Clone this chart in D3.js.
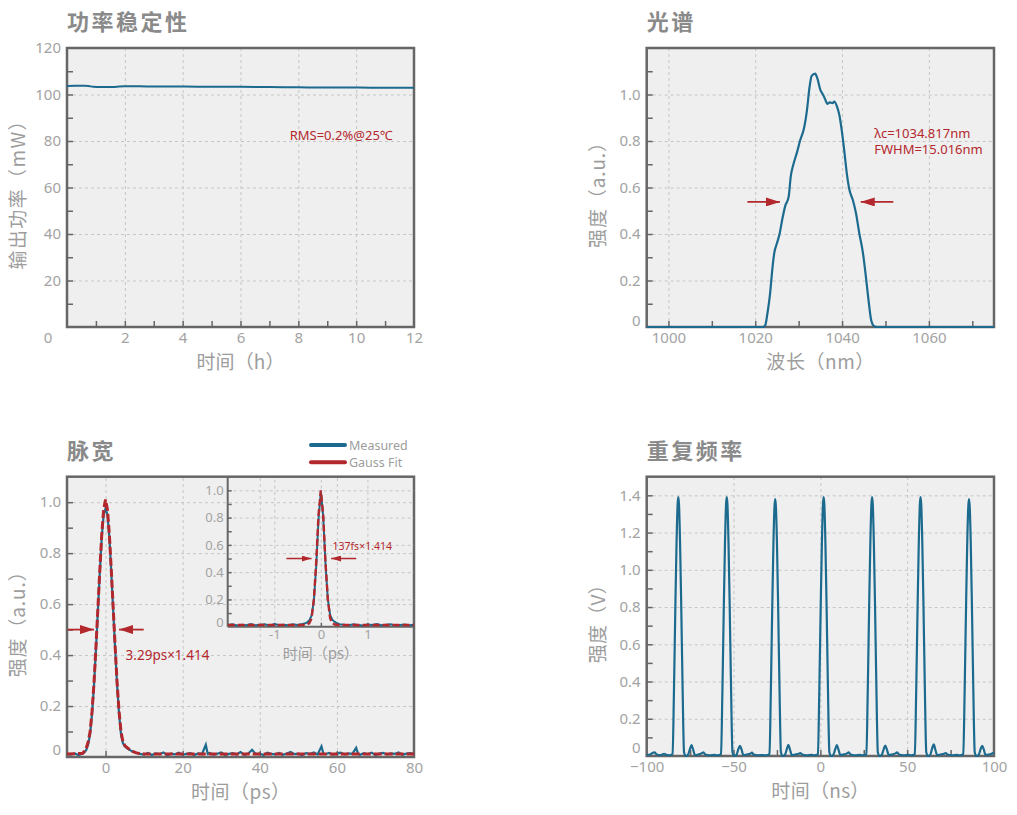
<!DOCTYPE html>
<html><head><meta charset="utf-8">
<script src="https://cdn.jsdelivr.net/npm/d3@7"></script>
<style>
body{margin:0;background:#fff;}
</style></head><body>
<script>
// ---------- DATA ----------
// Panel 1: power stability (time h, power mW)
const powerData = [[0,103.7],[0.3,103.8],[0.6,103.8],[0.75,103.7],[0.9,103.3],[1.2,103.2],[1.6,103.2],[1.8,103.4],[2.0,103.5],[2.5,103.5],[3,103.4],[4,103.4],[5,103.3],[6,103.3],[7,103.2],[8,103.1],[9,103.0],[10,103.0],[11,102.9],[12,102.9]];
const powerNote = "RMS=0.2%@25℃";

// Panel 2: spectrum (nm, a.u.)
const spectrumData = [[995,0],[1021.8,0],[1022.3,0.007],[1022.8,0.057],[1023.4,0.14],[1024.0,0.26],[1024.4,0.32],[1025.0,0.36],[1025.6,0.40],[1026.3,0.47],[1026.9,0.52],[1027.7,0.56],[1028.2,0.65],[1028.8,0.70],[1029.6,0.75],[1030.3,0.80],[1031.3,0.86],[1031.9,0.93],[1032.5,1.03],[1033.0,1.08],[1033.8,1.09],[1034.3,1.07],[1035.0,1.02],[1035.6,1.00],[1036.1,0.98],[1036.6,0.96],[1037.2,0.966],[1037.8,0.963],[1038.2,0.97],[1038.8,0.95],[1039.4,0.91],[1039.9,0.85],[1040.5,0.76],[1041.1,0.66],[1041.7,0.59],[1042.5,0.545],[1043.2,0.49],[1044.0,0.40],[1044.8,0.32],[1045.5,0.215],[1046.1,0.115],[1046.7,0.03],[1047.4,0.003],[1048.0,0],[1075,0]];
const spectrumArrows = [[1018.2,1025.7,0.538],[1051.8,1044.3,0.538]];
const spectrumNotes = ["λc=1034.817nm","FWHM=15.016nm"];

// Panel 3: pulse width (ps, a.u.)
const pulseMeasured = [[-10,0.012],[-9,0.009],[-8,0.014],[-7,0.008],[-6,0.013],[-5.5,0.018],[-5,0.028],[-4.5,0.05],[-4,0.09],[-3.5,0.17],[-3,0.28],[-2.5,0.42],[-2,0.57],[-1.5,0.72],[-1,0.86],[-0.5,0.95],[0,0.975],[0.5,0.95],[1,0.86],[1.5,0.72],[2,0.57],[2.5,0.42],[3,0.28],[3.5,0.17],[4,0.09],[4.5,0.055],[5,0.042],[5.5,0.035],[6,0.03],[7,0.022],[8,0.016],[9,0.012],[10,0.009],
[11,0.016],[12,0.008],[13,0.014],[14,0.011],[15,0.018],[16,0.007],[17,0.013],[18,0.01],[19,0.017],[20,0.009],[21,0.012],[22,0.015],[23,0.008],[24,0.014],[25,0.011],[26,0.048],[26.5,0.012],[27,0.016],[28,0.009],[29,0.013],[30,0.018],[31,0.008],[32,0.012],[33,0.015],[34,0.01],[35,0.019],[36,0.009],[37,0.014],[38,0.028],[39,0.011],[40,0.013],[41,0.008],[42,0.017],[43,0.012],[44,0.01],[45,0.016],[46,0.009],[47,0.014],[48,0.02],[49,0.011],[50,0.013],[51,0.008],[52,0.015],[53,0.012],[54,0.018],[55,0.01],[56,0.042],[56.5,0.014],[57,0.011],[58,0.016],[59,0.009],[60,0.013],[61,0.017],[62,0.01],[63,0.014],[64,0.012],[65,0.036],[65.5,0.012],[66,0.009],[67,0.015],[68,0.011],[69,0.017],[70,0.008],[71,0.013],[72,0.016],[73,0.01],[74,0.014],[75,0.012],[76,0.018],[77,0.009],[78,0.013],[79,0.015],[80,0.011]];
const pulseFit = [[-10,0.012],[-6,0.014],[-5.5,0.022],[-5,0.035],[-4.5,0.06],[-4,0.1],[-3.5,0.18],[-3,0.29],[-2.5,0.43],[-2,0.58],[-1.5,0.73],[-1,0.87],[-0.5,0.97],[0,1.01],[0.5,0.97],[1,0.87],[1.5,0.73],[2,0.58],[2.5,0.43],[3,0.29],[3.5,0.18],[4,0.1],[4.5,0.06],[5,0.045],[6,0.032],[7,0.022],[8,0.016],[9,0.013],[10,0.012],[80,0.012]];
const pulseArrows = [[-9.8,-3.0,0.5],[9.9,3.5,0.5]];
const pulseNote = "3.29ps×1.414";
const legendNames = ["Measured","Gauss Fit"];

// Inset (ps, a.u.)
const insetMeasured = [[-2.0,0.012],[-1.9,0.018],[-1.8,0.009],[-1.7,0.015],[-1.6,0.011],[-1.5,0.02],[-1.4,0.01],[-1.3,0.014],[-1.2,0.017],[-1.1,0.008],[-1.0,0.019],[-0.9,0.012],[-0.8,0.015],[-0.7,0.01],[-0.6,0.018],[-0.5,0.013],[-0.4,0.02],[-0.35,0.024],[-0.3,0.03],[-0.25,0.045],[-0.2,0.08],[-0.15,0.19],[-0.1,0.44],[-0.05,0.79],[0,0.99],[0.05,0.81],[0.1,0.46],[0.15,0.2],[0.2,0.085],[0.25,0.05],[0.3,0.035],[0.35,0.025],[0.4,0.018],[0.5,0.015],[0.6,0.011],[0.7,0.017],[0.8,0.013],[0.9,0.009],[1.0,0.016],[1.1,0.012],[1.2,0.019],[1.3,0.01],[1.4,0.014],[1.5,0.017],[1.6,0.009],[1.7,0.013],[1.8,0.016],[1.9,0.011],[2.0,0.014]];
const insetFit = [[-2,0.012],[-0.4,0.012],[-0.3,0.016],[-0.25,0.025],[-0.2,0.06],[-0.15,0.2],[-0.1,0.47],[-0.05,0.82],[0,1.0],[0.05,0.82],[0.1,0.47],[0.15,0.2],[0.2,0.06],[0.25,0.025],[0.3,0.016],[0.4,0.012],[2,0.012]];
const insetArrows = [[-0.74,-0.2,0.5],[0.76,0.22,0.5]];
const insetNote = "137fs×1.414";

// Panel 4: repetition rate (ns, V)
const repData = [[-100,0.005],[-98,0.008],[-96.5,0.018],[-95.5,0.02],[-94.5,0.01],[-92,0.005],[-90,0.012],[-89,0.008],[-87.5,0.004],
[-86.3,0.005],[-85.1,0.01],[-84.3,0.35],[-83.5,0.8],[-82.8,1.15],[-82.2,1.35],[-81.8,1.39],[-81.4,1.35],[-80.8,1.15],[-80.1,0.8],[-79.3,0.35],[-78.5,0.02],[-77.6,0.0],[-76.3,0.005],[-75.0,0.04],[-74.2,0.058],[-73.3,0.035],[-72.2,0.005],[-70.3,0.008],[-68.3,0.015],[-67.3,0.02],[-66.3,0.008],[-63.8,0.004],[-60.8,0.006],[-59.8,0.004],
[-58.4,0.005],[-57.2,0.01],[-56.4,0.35],[-55.6,0.8],[-54.9,1.15],[-54.3,1.35],[-53.9,1.39],[-53.5,1.35],[-52.9,1.15],[-52.2,0.8],[-51.4,0.35],[-50.6,0.02],[-49.7,0.0],[-48.4,0.005],[-47.1,0.04],[-46.3,0.055],[-45.4,0.035],[-44.3,0.005],[-42.4,0.008],[-40.4,0.012],[-39.4,0.018],[-38.4,0.008],[-35.9,0.004],[-32.9,0.005],[-31.9,0.003],
[-30.5,0.005],[-29.3,0.01],[-28.5,0.35],[-27.7,0.8],[-27.0,1.15],[-26.4,1.34],[-26.0,1.38],[-25.6,1.34],[-25.0,1.15],[-24.3,0.8],[-23.5,0.35],[-22.7,0.02],[-21.8,0.0],[-20.5,0.005],[-19.2,0.04],[-18.4,0.06],[-17.5,0.035],[-16.4,0.005],[-14.5,0.008],[-12.5,0.012],[-11.5,0.016],[-10.5,0.008],[-8.0,0.004],[-5.0,0.006],[-4.0,0.004],
[-2.6,0.005],[-1.4,0.01],[-0.6,0.35],[0.2,0.8],[0.9,1.15],[1.5,1.35],[1.9,1.39],[2.3,1.35],[2.9,1.15],[3.6,0.8],[4.4,0.35],[5.2,0.02],[6.1,0.0],[7.4,0.005],[8.7,0.04],[9.5,0.058],[10.4,0.035],[11.5,0.005],[13.4,0.008],[15.4,0.014],[16.4,0.02],[17.4,0.008],[19.9,0.004],[22.9,0.006],[23.9,0.004],
[25.3,0.005],[26.5,0.01],[27.3,0.35],[28.1,0.8],[28.8,1.15],[29.4,1.35],[29.8,1.39],[30.2,1.35],[30.8,1.15],[31.5,0.8],[32.3,0.35],[33.1,0.02],[34.0,0.0],[35.3,0.005],[36.6,0.04],[37.4,0.056],[38.3,0.035],[39.4,0.005],[41.3,0.008],[43.3,0.014],[44.3,0.02],[45.3,0.008],[47.8,0.004],[50.8,0.006],[51.8,0.004],
[53.2,0.005],[54.4,0.01],[55.2,0.35],[56.0,0.8],[56.7,1.15],[57.3,1.35],[57.7,1.39],[58.1,1.35],[58.7,1.15],[59.4,0.8],[60.2,0.35],[61.0,0.02],[61.9,0.0],[63.2,0.005],[64.5,0.045],[65.3,0.062],[66.2,0.035],[67.3,0.005],[69.2,0.008],[71.2,0.012],[72.2,0.016],[73.2,0.008],[75.7,0.004],[78.7,0.006],[79.7,0.004],
[81.1,0.005],[82.3,0.01],[83.1,0.35],[83.9,0.8],[84.6,1.15],[85.2,1.34],[85.6,1.38],[86.0,1.34],[86.6,1.15],[87.3,0.8],[88.1,0.35],[88.9,0.02],[89.8,0.0],[91.1,0.005],[92.4,0.04],[93.2,0.055],[94.1,0.035],[95.2,0.005],[97.1,0.008],[98.5,0.012],[99.3,0.015],[100,0.02]];

// Tick values
const p1XLabels=[2,4,6,8,10,12], p1YLabels=[20,40,60,80,100,120];
const p2XLabels=[1000,1020,1040,1060], p2YLabels=[0,0.2,0.4,0.6,0.8,1.0];
const p3XLabels=[0,20,40,60,80], p3YLabels=[0,0.2,0.4,0.6,0.8,1.0];
const inXLabels=[-1,0,1], inYLabels=[0,0.2,0.4,0.6,0.8,1.0];
const p4XLabels=[-100,-50,0,50,100], p4YLabels=[0,0.2,0.4,0.6,0.8,1.0,1.2,1.4];
const titles=["功率稳定性","光谱","脉宽","重复频率"];
const xTitles=["时间（h）","波长（nm）","时间（ps）","时间（ns）"];
const yTitles=["输出功率（mW）","强度（a.u.）","强度（a.u.）","强度（V）"];

// ---------- STYLE ----------
const BLUE="#1c6a8e", RED="#b3282d", FRAME="#666", GRID="#c6c6c6", TICKTXT="#a3a3a3", TITLE="#8a8a8a", AXTXT="#9d9d9d";
const LAT='"Noto Sans",sans-serif', CJK='"Noto Sans CJK SC",sans-serif';

const svg=d3.select("body").append("svg").attr("width",1017).attr("height",815);
const defs=svg.append("defs");
function marker(id,len,hh){
  defs.append("marker").attr("id",id).attr("markerUnits","userSpaceOnUse")
   .attr("markerWidth",len).attr("markerHeight",hh).attr("refX",len).attr("refY",hh/2).attr("orient","auto")
   .append("path").attr("d",`M0,0L${len},${hh/2}L0,${hh}Z`).attr("fill",RED);
}
marker("arrBig",14,9); marker("arrSmall",10,6);
let clipId=0;

function panel(c){
  const g=svg.append("g");
  const x=d3.scaleLinear().domain(c.xDomain).range([c.left,c.right]);
  const y=d3.scaleLinear().domain(c.yDomain).range([c.bottom,c.top]);
  const w=c.right-c.left,h=c.bottom-c.top;
  if(c.bg) g.append("rect").attr("x",c.left).attr("y",c.top).attr("width",w).attr("height",h).attr("fill","#efefef");
  const styleGrid=s=>{s.select(".domain").remove();s.selectAll("line").attr("stroke",GRID).attr("stroke-width",1).attr("stroke-dasharray","3,3");};
  g.append("g").attr("transform",`translate(0,${c.bottom})`).call(d3.axisBottom(x).tickValues(c.xGrid).tickSize(-h).tickFormat("")).call(styleGrid);
  g.append("g").attr("transform",`translate(${c.left},0)`).call(d3.axisLeft(y).tickValues(c.yGrid).tickSize(-w).tickFormat("")).call(styleGrid);
  const tl=c.tickLen||6;
  const styleTick=s=>{s.select(".domain").remove();s.selectAll("line").attr("stroke",FRAME).attr("stroke-width",1.5);};
  g.append("g").attr("transform",`translate(0,${c.bottom})`).call(d3.axisBottom(x).tickValues(c.xTicks).tickSize(-tl).tickFormat("")).call(styleTick);
  g.append("g").attr("transform",`translate(${c.left},0)`).call(d3.axisLeft(y).tickValues(c.yTicks).tickSize(-tl).tickFormat("")).call(styleTick);
  const fs=c.fontSize||15;
  const styleLab=s=>{s.select(".domain").remove();s.selectAll("line").remove();s.selectAll("text").attr("fill",TICKTXT).style("font-size",fs+"px").style("font-family",LAT);};
  g.append("g").attr("transform",`translate(0,${c.bottom})`).call(d3.axisBottom(x).tickValues(c.xLabels).tickSize(0).tickPadding(c.xPad||5).tickFormat(c.xFmt||d3.format("d"))).call(styleLab);
  const yl=g.append("g").attr("transform",`translate(${c.left},0)`).call(d3.axisLeft(y).tickValues(c.yLabels).tickSize(0).tickPadding(c.yPad||6).tickFormat(c.yFmt||(d=>d===0?"0":d3.format(".1f")(d)))).call(styleLab);
  yl.selectAll("text").filter(d=>d===0).attr("dy",c.zeroDy||"-0.1em");
  if(c.frame) g.append("rect").attr("x",c.left).attr("y",c.top).attr("width",w).attr("height",h).attr("fill","none").attr("stroke",FRAME).attr("stroke-width",2.5);
  if(c.axesOnly){
    g.append("line").attr("x1",c.left).attr("x2",c.left).attr("y1",c.top).attr("y2",c.bottom).attr("stroke",FRAME).attr("stroke-width",2);
    g.append("line").attr("x1",c.left).attr("x2",c.right).attr("y1",c.bottom).attr("y2",c.bottom).attr("stroke",FRAME).attr("stroke-width",2);
  }
  const id="clip"+(clipId++);
  defs.append("clipPath").attr("id",id).append("rect").attr("x",c.left).attr("y",c.top-2).attr("width",w).attr("height",h+3);
  const data=g.append("g").attr("clip-path",`url(#${id})`);
  if(c.title) svg.append("text").attr("x",c.left).attr("y",c.top-18).text(c.title).attr("fill",TITLE).style("font-size","22px").style("font-weight",700).style("letter-spacing","2.5px").style("font-family",CJK);
  if(c.xTitle) svg.append("text").attr("x",(c.left+c.right)/2).attr("y",c.bottom+c.xTitleOff).attr("text-anchor","middle").text(c.xTitle).attr("fill",AXTXT).style("font-size",(c.xTitleSize||19)+"px").style("font-family",CJK)
      .attr("textLength",c.xTitleLen).attr("lengthAdjust","spacing");
  if(c.yTitle) svg.append("text").attr("transform",`translate(${c.left-42},${(c.top+c.bottom)/2+3}) rotate(-90)`).attr("text-anchor","middle").text(c.yTitle).attr("fill",AXTXT).style("font-size","19px").style("font-family",CJK)
      .attr("textLength",c.yTitleLen).attr("lengthAdjust","spacing");
  return {x,y,g,data};
}
const range=(a,b,s)=>d3.range(a,b+s/2,s).map(v=>+v.toFixed(4));
const line=(x,y,curve)=>d3.line().x(d=>x(d[0])).y(d=>y(d[1])).curve(curve||d3.curveLinear);
function arrows(p,arr,mk,sw){
  arr.forEach(a=>p.g.append("line").attr("x1",p.x(a[0])).attr("x2",p.x(a[1])).attr("y1",p.y(a[2])).attr("y2",p.y(a[2])).attr("stroke",RED).attr("stroke-width",sw).attr("marker-end",`url(#${mk})`));
}
function note(p,xv,yv,t,size){
  return p.g.append("text").attr("x",p.x(xv)).attr("y",p.y(yv)).text(t).attr("fill",RED).style("font-size",size+"px").style("font-family",LAT);
}

// ---------- Panel 1 ----------
const p1=panel({left:67,right:414,top:48,bottom:327,xDomain:[0,12],yDomain:[0,120],bg:true,frame:true,
  xGrid:[2,4,6,8,10],yGrid:[20,40,60,80,100],xTicks:range(1,11,1),yTicks:range(10,110,10),
  xLabels:p1XLabels,yLabels:p1YLabels,yFmt:d3.format("d"),title:titles[0],xTitle:xTitles[0],xTitleOff:42,xTitleLen:88,yTitle:yTitles[0],yTitleLen:158});
svg.append("text").attr("x",48).attr("y",343).attr("text-anchor","middle").text("0").attr("fill",TICKTXT).style("font-size","15px").style("font-family",LAT);
p1.data.append("path").datum(powerData).attr("d",line(p1.x,p1.y,d3.curveMonotoneX)).attr("fill","none").attr("stroke",BLUE).attr("stroke-width",2);
note(p1,7.7,80.6,powerNote,13);

// ---------- Panel 2 ----------
const p2=panel({left:646.7,right:994,top:48,bottom:327,xDomain:[995,1075],yDomain:[0,1.2],bg:true,frame:true,
  xGrid:[1000,1020,1040,1060],yGrid:[0.2,0.4,0.6,0.8,1.0],xTicks:range(1000,1070,10),yTicks:range(0.1,1.1,0.1),
  xLabels:p2XLabels,yLabels:p2YLabels,title:titles[1],xTitle:xTitles[1],xTitleOff:42,xTitleLen:108,yTitle:yTitles[1],yTitleLen:115});
p2.data.append("path").datum(spectrumData).attr("d",line(p2.x,p2.y,d3.curveMonotoneX)).attr("fill","none").attr("stroke",BLUE).attr("stroke-width",2.2);
arrows(p2,spectrumArrows,"arrBig",1.8);
spectrumNotes.forEach((t,i)=>note(p2,1047.4,0.815-i*0.07,t,13));

// ---------- Panel 3 ----------
const p3=panel({left:67,right:414,top:476.7,bottom:757,xDomain:[-10,80],yDomain:[0,1.1],bg:true,frame:true,
  xGrid:[0,20,40,60],yGrid:[0.2,0.4,0.6,0.8,1.0],xTicks:[0,20,40,60],yTicks:range(0.1,1.0,0.1),
  xLabels:p3XLabels,yLabels:p3YLabels,zeroDy:"-0.2em",title:titles[2],xTitle:xTitles[2],xTitleOff:42,xTitleLen:99,yTitle:yTitles[2],yTitleLen:115});
p3.data.append("path").datum(pulseMeasured).attr("d",line(p3.x,p3.y)).attr("fill","none").attr("stroke",BLUE).attr("stroke-width",2.2);
p3.data.append("path").datum(pulseFit).attr("d",line(p3.x,p3.y)).attr("fill","none").attr("stroke",RED).attr("stroke-width",3).attr("stroke-dasharray","8,3");
arrows(p3,pulseArrows,"arrBig",1.8);
note(p3,5.2,0.38,pulseNote,13.5);

// Inset
const pi=panel({left:227.7,right:414,top:476.7,bottom:626.7,xDomain:[-2,2],yDomain:[0,1.1],bg:false,frame:false,axesOnly:true,tickLen:4,
  xGrid:[-1,0,1],yGrid:[0.2,0.4,0.6,0.8,1.0],xTicks:[-1,0,1],yTicks:range(0.1,1.0,0.1),
  xLabels:inXLabels,yLabels:inYLabels,fontSize:13,yPad:4,xPad:3,zeroDy:"-0.05em",
  xFmt:d=>d<0?"-"+Math.abs(d):String(d),xTitle:"时间（ps）",xTitleOff:32,xTitleSize:15,xTitleLen:76});
pi.data.append("path").datum(insetMeasured).attr("d",line(pi.x,pi.y)).attr("fill","none").attr("stroke",BLUE).attr("stroke-width",2);
pi.data.append("path").datum(insetFit).attr("d",line(pi.x,pi.y)).attr("fill","none").attr("stroke",RED).attr("stroke-width",2.4).attr("stroke-dasharray","7,3");
arrows(pi,insetArrows,"arrSmall",1.5);
note(pi,0.25,0.56,insetNote,10.5);

// Legend
legendNames.forEach((n,i)=>{
  const yy=445+i*17.3;
  svg.append("line").attr("x1",311).attr("x2",345).attr("y1",yy).attr("y2",yy).attr("stroke",i?RED:BLUE).attr("stroke-width",4).attr("stroke-linecap","round");
  svg.append("text").attr("x",349).attr("y",yy+4.5).text(n).attr("fill",AXTXT).style("font-size","12.5px").style("font-family",LAT);
});

// ---------- Panel 4 ----------
const p4=panel({left:646.7,right:994,top:476.7,bottom:756,xDomain:[-100,100],yDomain:[0,1.5],bg:true,frame:true,
  xGrid:[-50,0,50],yGrid:[0.2,0.4,0.6,0.8,1.0,1.2,1.4],xTicks:[-75,-50,-25,0,25,50,75],yTicks:range(0.1,1.4,0.1),
  xLabels:p4XLabels,yLabels:p4YLabels,zeroDy:"-0.25em",title:titles[3],xTitle:xTitles[3],xTitleOff:42,xTitleLen:98,yTitle:yTitles[3],yTitleLen:88});
p4.data.append("path").datum(repData).attr("d",line(p4.x,p4.y,d3.curveMonotoneX)).attr("fill","none").attr("stroke",BLUE).attr("stroke-width",2.2);
</script>
</body></html>
